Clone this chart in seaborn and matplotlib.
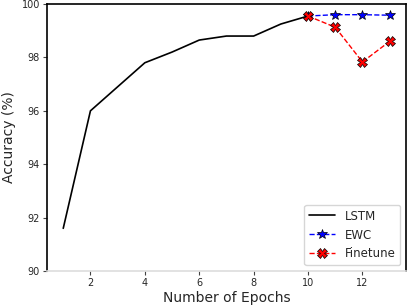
import pandas as pd
import matplotlib
matplotlib.use("Agg")
import matplotlib.pyplot as plt
import seaborn as sns

# accuracy per epoch
lstm_epochs = [1, 2, 3, 4, 5, 6, 7, 8, 9, 10]
lstm_acc = [91.6, 96.0, 96.9, 97.8, 98.2, 98.65, 98.8, 98.8, 99.25, 99.55]
ewc_epochs = [10, 11, 12, 13]
ewc_acc = [99.55, 99.6, 99.6, 99.58]
ft_epochs = [10, 11, 12, 13]
ft_acc = [99.55, 99.13, 97.83, 98.6]
yticks = [90, 92, 94, 96, 98, 100]
xticks = [2, 4, 6, 8, 10, 12]

sns.set_style("white")
plt.rcParams["font.family"] = ["DejaVu Sans"]

fig = plt.figure(figsize=(4.08, 3.08), dpi=100)
ax = fig.add_axes([0.115, 0.12, 0.88, 0.867])

sns.lineplot(x=lstm_epochs, y=lstm_acc, ax=ax, color="black", linewidth=1.2,
             label="LSTM")
sns.lineplot(x=ewc_epochs, y=ewc_acc, ax=ax, color="blue", linestyle="--",
             linewidth=1.0, marker="*", markersize=7, markerfacecolor="blue",
             markeredgecolor="black", markeredgewidth=0.5, label="EWC")
sns.lineplot(x=ft_epochs, y=ft_acc, ax=ax, color="red", linestyle="--",
             linewidth=1.0, marker="X", markersize=7, markerfacecolor="red",
             markeredgecolor="black", markeredgewidth=0.5, label="Finetune")

ax.set_xlim(0.4, 13.6)
ax.set_ylim(90, 100)
ax.set_xticks(xticks)
ax.set_yticks(yticks)
ax.tick_params(axis="both", labelsize=7, length=3, direction="out",
               left=True, bottom=True, color="#444444", pad=2)
for s in ["left", "top", "right"]:
    ax.spines[s].set_color("black")
    ax.spines[s].set_linewidth(1.2)
ax.spines["bottom"].set_color("#dddddd")
ax.spines["bottom"].set_linewidth(1.2)

ax.set_xlabel("Number of Epochs", fontsize=10, labelpad=2)
ax.set_ylabel("Accuracy (%)", fontsize=10, labelpad=4)
ax.legend(loc="lower right", fontsize=8.5, frameon=True, handlelength=2.2)

fig.savefig("out.png", dpi=100)
